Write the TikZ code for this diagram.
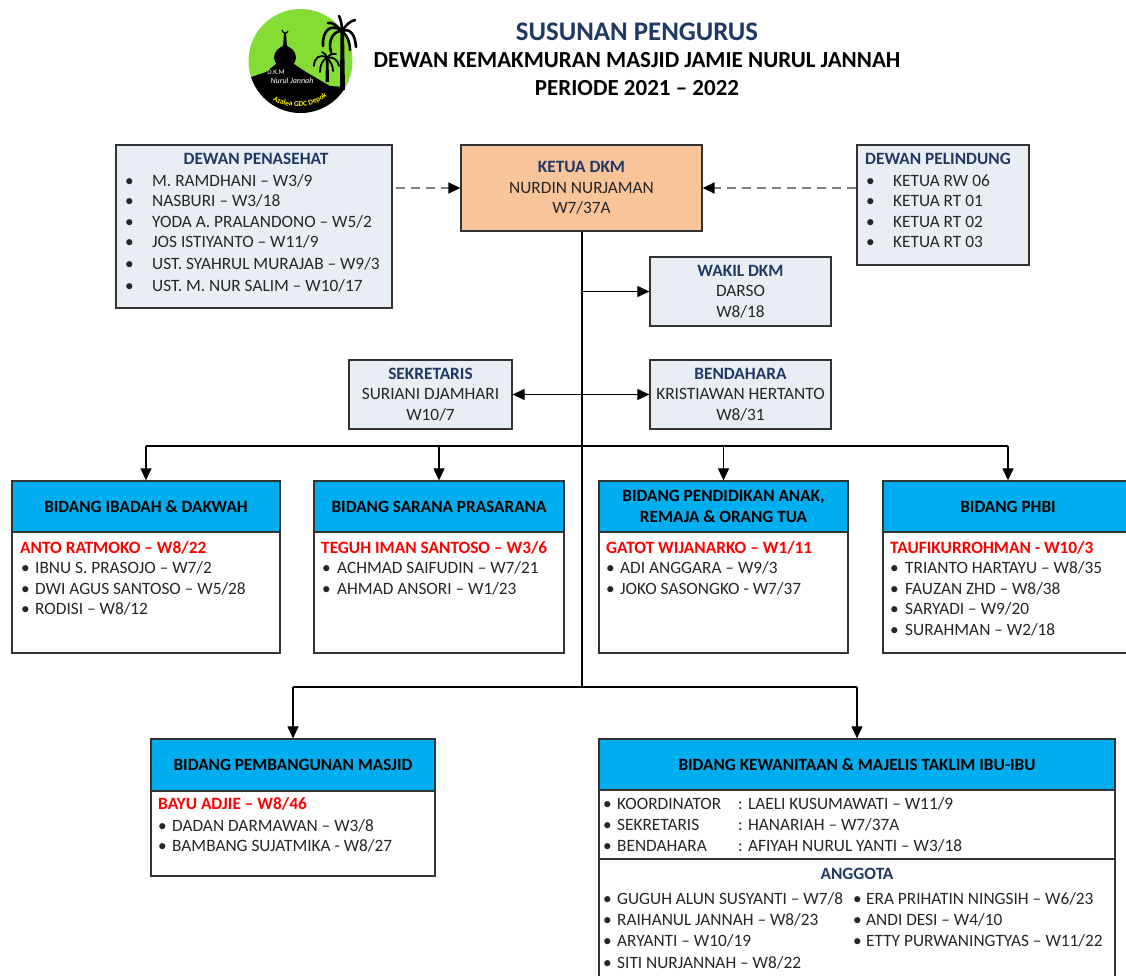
\documentclass[tikz,border=0pt]{standalone}
\usepackage{fontspec}
\setmainfont{Carlito}
\usetikzlibrary{arrows.meta,decorations.text}

\definecolor{navy}{HTML}{1F3864}
\definecolor{ink}{HTML}{262626}
\definecolor{pale}{HTML}{E9EEF5}
\definecolor{peach}{HTML}{F8C49A}
\definecolor{sky}{HTML}{00AEEF}
\definecolor{leaf}{HTML}{84DC34}
\definecolor{edge}{HTML}{333333}

\newcommand{\blt}[1]{\makebox[#1pt][l]{\textbullet}}

\tikzset{
  base/.style={font=\fontsize{17.3}{20.5}\selectfont, text=ink, align=center, inner sep=0pt},
  box/.style={base, draw=edge, line width=1.3pt},
  palebox/.style={box, fill=pale},
  headbox/.style={box, fill=sky, text=black, font=\fontsize{17.2}{20.5}\selectfont\bfseries},
  bodybox/.style={box, fill=white},
  line/.style={base, anchor=west, text height=11pt, text depth=0pt, yshift=-0.7pt},
  heading/.style={line, anchor=center, text=navy, font=\fontsize{17.3}{20.5}\selectfont\bfseries},
  redline/.style={line, text=red, font=\fontsize{17.3}{20.5}\selectfont\bfseries},
  link/.style={draw=black, line width=1.2pt},
  trunk/.style={draw=black, line width=2pt},
  arrow/.style={link, -{Triangle[length=12pt,width=11pt]}},
  dashlink/.style={draw=gray, line width=1.6pt, dash pattern=on 9pt off 6pt},
  dasharrow/.style={dashlink, -{Triangle[length=12pt,width=11pt,color=black]}},
  frond/.style={draw=black, line width=2.6pt, line cap=round},
  smallfrond/.style={draw=black, line width=1.8pt, line cap=round}
}

\begin{document}
\begin{tikzpicture}[x=1pt,y=-1pt]
    \useasboundingbox (0,0) rectangle (1126,975);

    % Logo
    \begin{scope}
        \fill[leaf] (300.5,61) circle (52);
        \clip (300.5,61) circle (52);
        \fill[black] (248,78) -- (266,72) -- (276,64) -- (294,64) -- (306,72) -- (330,86) -- (360,88) -- (360,120) -- (240,120) -- cycle;
        \fill[black] (285,45) .. controls (272,50) and (272,60) .. (278,66) -- (292,66) .. controls (298,60) and (298,50) .. (285,45) -- cycle;
        \fill[black] (284,33) -- (286,33) -- (287,48) -- (283,48) -- cycle;
    \end{scope}
    \draw[black, line width=1.2pt] (282,30) .. controls (283,34) and (287,34) .. (288,31);
    \fill[black] (340.5,30) -- (344,30) -- (345,90) -- (340,90) -- cycle;
    \fill[black] (326,58) -- (328.5,58) -- (329,82) -- (325.5,82) -- cycle;
    \draw[frond] (342,31) .. controls (330,22) and (322,32) .. (323,46);
    \draw[frond] (342,31) .. controls (332,31) and (328,42) .. (331,52);
    \draw[frond] (342,31) .. controls (336,25) and (332,22) .. (328,23);
    \draw[frond] (342,31) .. controls (342,25) and (341,20) .. (339,16);
    \draw[frond] (342,31) .. controls (346,25) and (350,21) .. (355,20);
    \draw[frond] (342,31) .. controls (350,28) and (355,34) .. (356,47);
    \draw[frond] (342,31) .. controls (347,35) and (350,42) .. (350,50);
    \draw[smallfrond] (327,58) .. controls (320,53) and (314,58) .. (314,66);
    \draw[smallfrond] (327,58) .. controls (322,60) and (320,66) .. (320,72);
    \draw[smallfrond] (327,58) .. controls (327,56) and (325,53) .. (322,52);
    \draw[smallfrond] (327,58) .. controls (330,54) and (333,53) .. (336,54);
    \draw[smallfrond] (327,58) .. controls (333,56) and (338,60) .. (339,66);
    \draw[smallfrond] (327,58) .. controls (331,62) and (333,66) .. (333,71);
    \node[inner sep=0pt] (LOGO1) at (276,72) {\fontsize{7}{7}\selectfont\color{white}D.K.M};
    \node[inner sep=0pt] (LOGO2) at (292,81) {\fontsize{8}{8}\selectfont\color{white}\itshape Nurul Jannah};
    \path[postaction={decorate}, decoration={text along path, text align=center, text={|\fontsize{7.5}{8}\selectfont\bfseries\color{yellow}|Azalea GDC Depok}}] (270,98) .. controls (285,110) and (312,110) .. (330,94);

    % Title
    \node (TITLE1) at (637,31.5) {\fontsize{26.8}{28}\selectfont\bfseries\color{navy}SUSUNAN PENGURUS};
    \node (TITLE2) at (637,60.5) {\fontsize{23}{26}\selectfont\bfseries\color{black}DEWAN KEMAKMURAN MASJID JAMIE NURUL JANNAH};
    \node (TITLE3) at (637,88.5) {\fontsize{23}{26}\selectfont\bfseries\color{black}PERIODE 2021 -- 2022};

    % Nodes (top boxes)
    \node[box, fill=peach, minimum width=241pt, minimum height=86pt] (KETUA) at (581.5,188) {{\bfseries\color{navy}KETUA DKM}\\NURDIN NURJAMAN\\W7/37A};
    \node[palebox, minimum width=276pt, minimum height=163pt] (PENASEHAT) at (254,226.5) {};
    \node[palebox, minimum width=172pt, minimum height=120pt] (PELINDUNG) at (943,205) {};
    \node[palebox, minimum width=181pt, minimum height=69pt] (WAKIL) at (740.5,291.5) {{\bfseries\color{navy}WAKIL DKM}\\DARSO\\W8/18};
    \node[palebox, minimum width=163pt, minimum height=69pt] (SEKRETARIS) at (430.5,394.5) {{\bfseries\color{navy}SEKRETARIS}\\SURIANI DJAMHARI\\W10/7};
    \node[palebox, minimum width=181pt, minimum height=69pt] (BENDAHARA) at (740.5,394.5) {{\bfseries\color{navy}BENDAHARA}\\KRISTIAWAN HERTANTO\\W8/31};

    % Nodes (Dewan Penasehat)
    \node[heading] (PN0) at (256,158) {DEWAN PENASEHAT};
    \node[line] (PN1) at (125,180) {\blt{27}M. RAMDHANI -- W3/9};
    \node[line] (PN2) at (125,200) {\blt{27}NASBURI -- W3/18};
    \node[line] (PN3) at (125,221) {\blt{27}YODA A. PRALANDONO -- W5/2};
    \node[line] (PN4) at (125,241) {\blt{27}JOS ISTIYANTO -- W11/9};
    \node[line] (PN5) at (125,263) {\blt{27}UST. SYAHRUL MURAJAB -- W9/3};
    \node[line] (PN6) at (125,285) {\blt{27}UST. M. NUR SALIM -- W10/17};

    % Nodes (Dewan Pelindung)
    \node[heading] (PL0) at (938,158) {DEWAN PELINDUNG};
    \node[line] (PL1) at (866,180) {\blt{27}KETUA RW 06};
    \node[line] (PL2) at (866,200) {\blt{27}KETUA RT 01};
    \node[line] (PL3) at (866,221) {\blt{27}KETUA RT 02};
    \node[line] (PL4) at (866,241) {\blt{27}KETUA RT 03};

    % Nodes (Bidang, row 1)
    \node[bodybox, minimum width=268pt, minimum height=121pt] (IBADAHB) at (146,592.5) {};
    \node[headbox, minimum width=268pt, minimum height=51pt] (IBADAH) at (146,506.5) {BIDANG IBADAH \& DAKWAH};
    \node[bodybox, minimum width=250pt, minimum height=121pt] (SARANAB) at (439,592.5) {};
    \node[headbox, minimum width=250pt, minimum height=51pt] (SARANA) at (439,506.5) {BIDANG SARANA PRASARANA};
    \node[bodybox, minimum width=249pt, minimum height=121pt] (DIDIKB) at (723.5,592.5) {};
    \node[headbox, minimum width=249pt, minimum height=51pt] (DIDIK) at (723.5,506.5) {BIDANG PENDIDIKAN ANAK,\\REMAJA \& ORANG TUA};
    \node[bodybox, minimum width=250pt, minimum height=121pt] (PHBIB) at (1008,592.5) {};
    \node[headbox, minimum width=250pt, minimum height=51pt] (PHBI) at (1008,506.5) {BIDANG PHBI};

    \node[redline] (IB0) at (20,547) {ANTO RATMOKO -- W8/22};
    \node[line] (IB1) at (21,567) {\blt{14}IBNU S. PRASOJO -- W7/2};
    \node[line] (IB2) at (21,588) {\blt{14}DWI AGUS SANTOSO -- W5/28};
    \node[line] (IB3) at (21,608) {\blt{14}RODISI -- W8/12};

    \node[redline] (SR0) at (321,547) {TEGUH IMAN SANTOSO -- W3/6};
    \node[line] (SR1) at (322,567) {\blt{15}ACHMAD SAIFUDIN -- W7/21};
    \node[line] (SR2) at (322,588) {\blt{15}AHMAD ANSORI -- W1/23};

    \node[redline] (DD0) at (606,547) {GATOT WIJANARKO -- W1/11};
    \node[line] (DD1) at (606,567) {\blt{14}ADI ANGGARA -- W9/3};
    \node[line] (DD2) at (606,588) {\blt{14}JOKO SASONGKO - W7/37};

    \node[redline] (PH0) at (890,547) {TAUFIKURROHMAN - W10/3};
    \node[line] (PH1) at (890,567) {\blt{15}TRIANTO HARTAYU -- W8/35};
    \node[line] (PH2) at (890,588) {\blt{15}FAUZAN ZHD -- W8/38};
    \node[line] (PH3) at (890,608) {\blt{15}SARYADI -- W9/20};
    \node[line] (PH4) at (890,629) {\blt{15}SURAHMAN -- W2/18};

    % Nodes (Bidang, row 2)
    \node[bodybox, minimum width=284pt, minimum height=86pt] (BANGUNB) at (293,833) {};
    \node[headbox, minimum width=284pt, minimum height=52pt] (BANGUN) at (293,765) {BIDANG PEMBANGUNAN MASJID};
    \node[bodybox, minimum width=516pt, minimum height=130pt] (ANGGOTAB) at (857,924) {};
    \node[bodybox, minimum width=516pt, minimum height=69pt] (WANITAB) at (857,824.5) {};
    \node[headbox, minimum width=516pt, minimum height=51pt] (WANITA) at (857,764.5) {BIDANG KEWANITAAN \& MAJELIS TAKLIM IBU-IBU};

    \node[redline] (BG0) at (158,803) {BAYU ADJIE -- W8/46};
    \node[line] (BG1) at (158,825) {\blt{14}DADAN DARMAWAN -- W3/8};
    \node[line] (BG2) at (158,845) {\blt{14}BAMBANG SUJATMIKA - W8/27};

    \node[line] (WN1) at (603,803) {\blt{14}KOORDINATOR};
    \node[line] (WN2) at (603,824) {\blt{14}SEKRETARIS};
    \node[line] (WN3) at (603,845) {\blt{14}BENDAHARA};
    \node[line] (WV1) at (738,803) {: LAELI KUSUMAWATI -- W11/9};
    \node[line] (WV2) at (738,824) {: HANARIAH -- W7/37A};
    \node[line] (WV3) at (738,845) {: AFIYAH NURUL YANTI -- W3/18};

    \node[heading] (AG0) at (857,873) {ANGGOTA};
    \node[line] (AG1) at (603,898) {\blt{14}GUGUH ALUN SUSYANTI -- W7/8};
    \node[line] (AG2) at (603,919) {\blt{14}RAIHANUL JANNAH -- W8/23};
    \node[line] (AG3) at (603,940) {\blt{14}ARYANTI -- W10/19};
    \node[line] (AG4) at (603,962) {\blt{14}SITI NURJANNAH -- W8/22};
    \node[line] (AG5) at (853,898) {\blt{13}ERA PRIHATIN NINGSIH -- W6/23};
    \node[line] (AG6) at (853,919) {\blt{13}ANDI DESI -- W4/10};
    \node[line] (AG7) at (853,940) {\blt{13}ETTY PURWANINGTYAS -- W11/22};

    % Junctions
    \coordinate (J1) at (581.5,291.5);
    \coordinate (J3) at (581.5,687);
    \coordinate (R1) at (146,446);
    \coordinate (R2) at (439,446);
    \coordinate (R3) at (723.5,446);
    \coordinate (R4) at (1008,446);
    \coordinate (S1) at (293,687);
    \coordinate (S2) at (857,687);

    % Connecting Lines
    \draw[dasharrow] (PENASEHAT.east |- KETUA.west) ++(3,0) -- (KETUA.west);
    \draw[dasharrow] (PELINDUNG.west |- KETUA.east) -- (KETUA.east);
    \draw[trunk] (KETUA.south) -- (J3);
    \draw[arrow] (J1) -- (WAKIL.west);
    \draw[link, {Triangle[length=12pt,width=11pt]}-{Triangle[length=12pt,width=11pt]}] (SEKRETARIS.east) -- (BENDAHARA.west);
    \draw[link] (R1) -- (R4);
    \draw[arrow] (R1) -- (IBADAH.north);
    \draw[arrow] (R2) -- (SARANA.north);
    \draw[arrow] (R3) -- (DIDIK.north);
    \draw[arrow] (R4) -- (PHBI.north);
    \draw[link] (S1) -- (S2);
    \draw[arrow] (S1) -- (BANGUN.north);
    \draw[arrow] (S2) -- (WANITA.north);
\end{tikzpicture}
\end{document}
